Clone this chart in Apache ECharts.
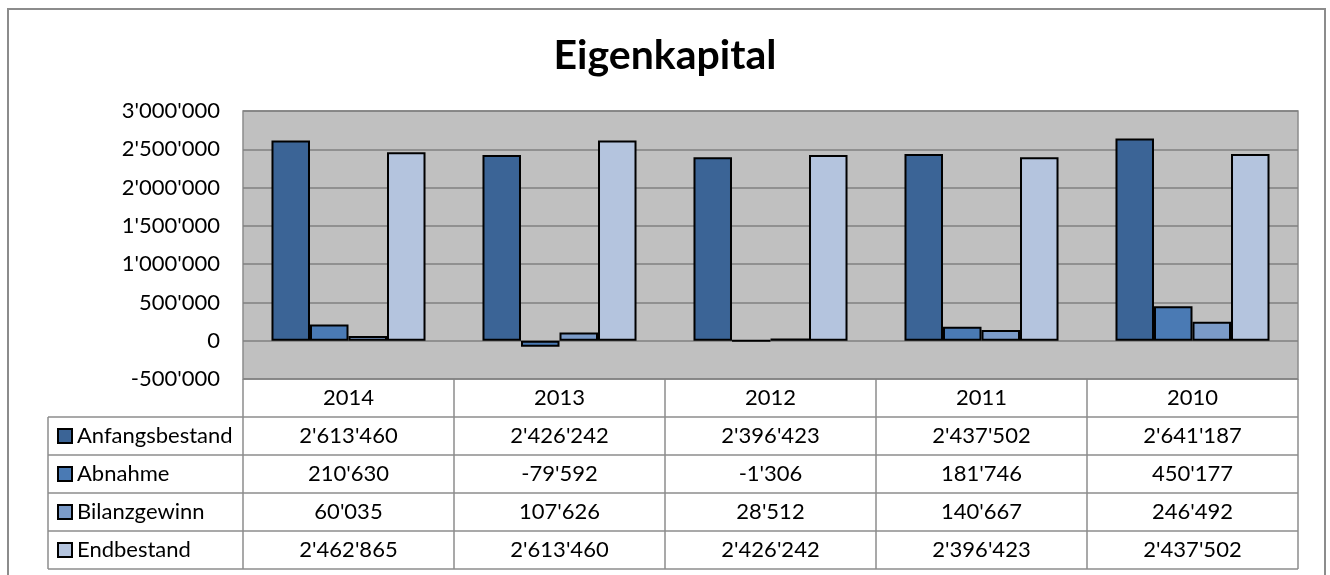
<!DOCTYPE html>
<html>
<head>
<meta charset="utf-8">
<script src="https://cdn.jsdelivr.net/npm/echarts@6/dist/echarts.min.js"></script>
<style>
  html, body { margin: 0; padding: 0; background: #fff; }
  #main { width: 1330px; height: 575px; }
</style>
</head>
<body>
<div id="main"></div>
<script>
// Eigenkapital, Excel-Diagramm mit Datentabelle
var years = ['2014', '2013', '2012', '2011', '2010'];
var anfangsbestand = [2613460, 2426242, 2396423, 2437502, 2641187];
var abnahme = [210630, -79592, -1306, 181746, 450177];
var bilanzgewinn = [60035, 107626, 28512, 140667, 246492];
var endbestand = [2462865, 2613460, 2426242, 2396423, 2437502];
var seriesNames = ['Anfangsbestand', 'Abnahme', 'Bilanzgewinn', 'Endbestand'];
var seriesData = [anfangsbestand, abnahme, bilanzgewinn, endbestand];
var colors = ['#3b6496', '#4a7ab4', '#7b9bc8', '#b4c4de'];

var FONT = 'Lato, "Open Sans", sans-serif';
var FS = 22;

// Tausender mit Apostroph
function fmt(v) {
    var s = Math.abs(v).toString().replace(/\B(?=(\d{3})+(?!\d))/g, "'");
    return (v < 0 ? '-' : '') + s;
}

var dom = document.getElementById('main');
var myChart = echarts.init(dom);

// Plotbereich
var gLeft = 243, gTop = 111, gRight = 1298, gBottom = 379;
var rowH = 38;
var tableLeft = 48;

var series = seriesNames.map(function (name, i) {
    return {
        name: name,
        type: 'bar',
        data: seriesData[i],
        barGap: 0,
        barCategoryGap: '27%',
        itemStyle: { color: colors[i], borderColor: '#000', borderWidth: 2 },
        emphasis: { disabled: true }
    };
});

// eine Achse pro Tabellenzeile
var xAxes = [{
    type: 'category',
    data: years,
    axisLine: { show: false },
    axisTick: { show: false },
    axisLabel: { show: false }
}, {
    type: 'category',
    data: years,
    position: 'bottom',
    axisLine: { show: false, onZero: false },
    axisTick: { show: false },
    axisLabel: { margin: 19, verticalAlign: 'middle', color: '#000', fontSize: FS, fontFamily: FONT }
}];
seriesData.forEach(function (arr, k) {
    xAxes.push({
        type: 'category',
        data: arr.map(fmt),
        position: 'bottom',
        axisLine: { show: false, onZero: false },
        axisTick: { show: false },
        axisLabel: { margin: 19 + rowH * (k + 1), verticalAlign: 'middle', color: '#000', fontSize: FS, fontFamily: FONT, interval: 0 }
    });
});

// Tabellenlinien
var lines = [];
var lineStyle = { stroke: '#8c8c8c', lineWidth: 1.5 };
var colW = (gRight - gLeft) / years.length;
var tBottom = gBottom + rowH * 5;
for (var c = 0; c <= years.length; c++) {
    var x = gLeft + c * colW;
    lines.push({ type: 'line', shape: { x1: x, y1: gBottom, x2: x, y2: tBottom }, style: lineStyle, silent: true });
}
lines.push({ type: 'line', shape: { x1: tableLeft, y1: gBottom + rowH, x2: tableLeft, y2: tBottom }, style: lineStyle, silent: true });
for (var r = 1; r <= 5; r++) {
    var y = gBottom + rowH * r;
    lines.push({ type: 'line', shape: { x1: tableLeft, y1: y, x2: gRight, y2: y }, style: lineStyle, silent: true });
}
// Diagrammrahmen
lines.push({ type: 'rect', shape: { x: 8, y: 9, width: 1317, height: 600 }, style: { fill: null, stroke: '#8c8c8c', lineWidth: 2 }, silent: true, z: -1 });

var option = {
    animation: false,
    title: {
        text: 'Eigenkapital',
        left: 'center',
        top: 30,
        textStyle: { fontSize: 41, fontWeight: 'bold', color: '#000', fontFamily: FONT }
    },
    legend: {
        orient: 'vertical',
        left: 57,
        top: gBottom + rowH + 7,
        padding: 0,
        itemWidth: 14,
        itemHeight: 14,
        itemGap: 14,
        icon: 'rect',
        selectedMode: false,
        textStyle: { fontSize: FS, lineHeight: 24, color: '#000', fontFamily: FONT },
        data: seriesNames
    },
    grid: {
        left: gLeft,
        top: gTop,
        right: 1330 - gRight,
        bottom: 575 - gBottom,
        show: true,
        backgroundColor: '#c0c0c0',
        borderColor: '#8c8c8c',
        borderWidth: 1.5,
        containLabel: false
    },
    xAxis: xAxes,
    yAxis: {
        type: 'value',
        min: -500000,
        max: 3000000,
        interval: 500000,
        axisLine: { show: false },
        axisTick: { show: false },
        splitLine: { lineStyle: { color: '#808080', width: 1.5 } },
        axisLabel: { formatter: fmt, margin: 23, color: '#000', fontSize: FS, fontFamily: FONT }
    },
    graphic: lines,
    series: series
};

myChart.setOption(option);
</script>
</body>
</html>
